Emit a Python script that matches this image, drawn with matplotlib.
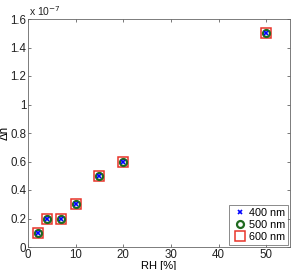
import matplotlib
matplotlib.use("Agg")
import matplotlib.pyplot as plt
from matplotlib.ticker import FormatStrFormatter, FixedLocator

rh = [2, 4, 7, 10, 15, 20, 50]
dn_400 = [0.1, 0.2, 0.2, 0.3, 0.5, 0.6, 1.5]
dn_500 = [0.1, 0.2, 0.2, 0.3, 0.5, 0.6, 1.5]
dn_600 = [0.1, 0.2, 0.2, 0.3, 0.5, 0.6, 1.5]
labels = ["400 nm", "500 nm", "600 nm"]
xticks = [0, 10, 20, 30, 40, 50]
yticks = [0, 0.2, 0.4, 0.6, 0.8, 1, 1.2, 1.4, 1.6]

plt.rcParams['font.family'] = ['Liberation Sans', 'DejaVu Sans']
fig = plt.figure(figsize=(2.95, 2.7), dpi=100)
ax = fig.add_axes([28/295, 1 - 247/270, 262/295, 228/270])

ax.plot(rh, dn_600, linestyle='none', marker='s', markersize=7, markerfacecolor='none',
        markeredgecolor='#e8342a', markeredgewidth=1.1, label=labels[2], zorder=3)
ax.plot(rh, dn_500, linestyle='none', marker='o', markersize=5, markerfacecolor='none',
        markeredgecolor='#1f6a1f', markeredgewidth=1.6, label=labels[1], zorder=4)
ax.plot(rh, dn_400, linestyle='none', marker='x', markersize=3.2,
        markeredgecolor='#0000ff', markeredgewidth=1.2, label=labels[0], zorder=5)

ax.set_xlim(0, 55)
ax.set_ylim(0, 1.6)
ax.xaxis.set_major_locator(FixedLocator(xticks))
ax.yaxis.set_major_locator(FixedLocator(yticks))
ax.yaxis.set_major_formatter(FormatStrFormatter('%g'))
ax.tick_params(direction='in', top=True, right=True, length=2.5, width=0.5,
               labelsize=8.3, pad=1.2, colors='#444444', labelcolor='#222222')
for s in ax.spines.values():
    s.set_linewidth(0.6)
    s.set_color('#666666')

ax.set_xlabel("RH [%]", fontsize=8, labelpad=0)
ax.set_ylabel("Δn", fontsize=8.3, labelpad=-0.5)
ax.text(0.005, 1.005, r"x 10$^{-7}$", transform=ax.transAxes, fontsize=7.5,
        ha='left', va='bottom', color='#222222')

h, l = ax.get_legend_handles_labels()
order = [2, 1, 0]
leg = ax.legend([h[i] for i in order], [l[i] for i in order], loc='lower right',
                fontsize=7.8, frameon=True, fancybox=False, borderpad=0.3,
                labelspacing=0.2, handletextpad=0.2, handlelength=1.3,
                borderaxespad=0.15)
leg.get_frame().set_edgecolor('#555555')
leg.get_frame().set_linewidth(0.6)

fig.savefig("out.png", dpi=100)
